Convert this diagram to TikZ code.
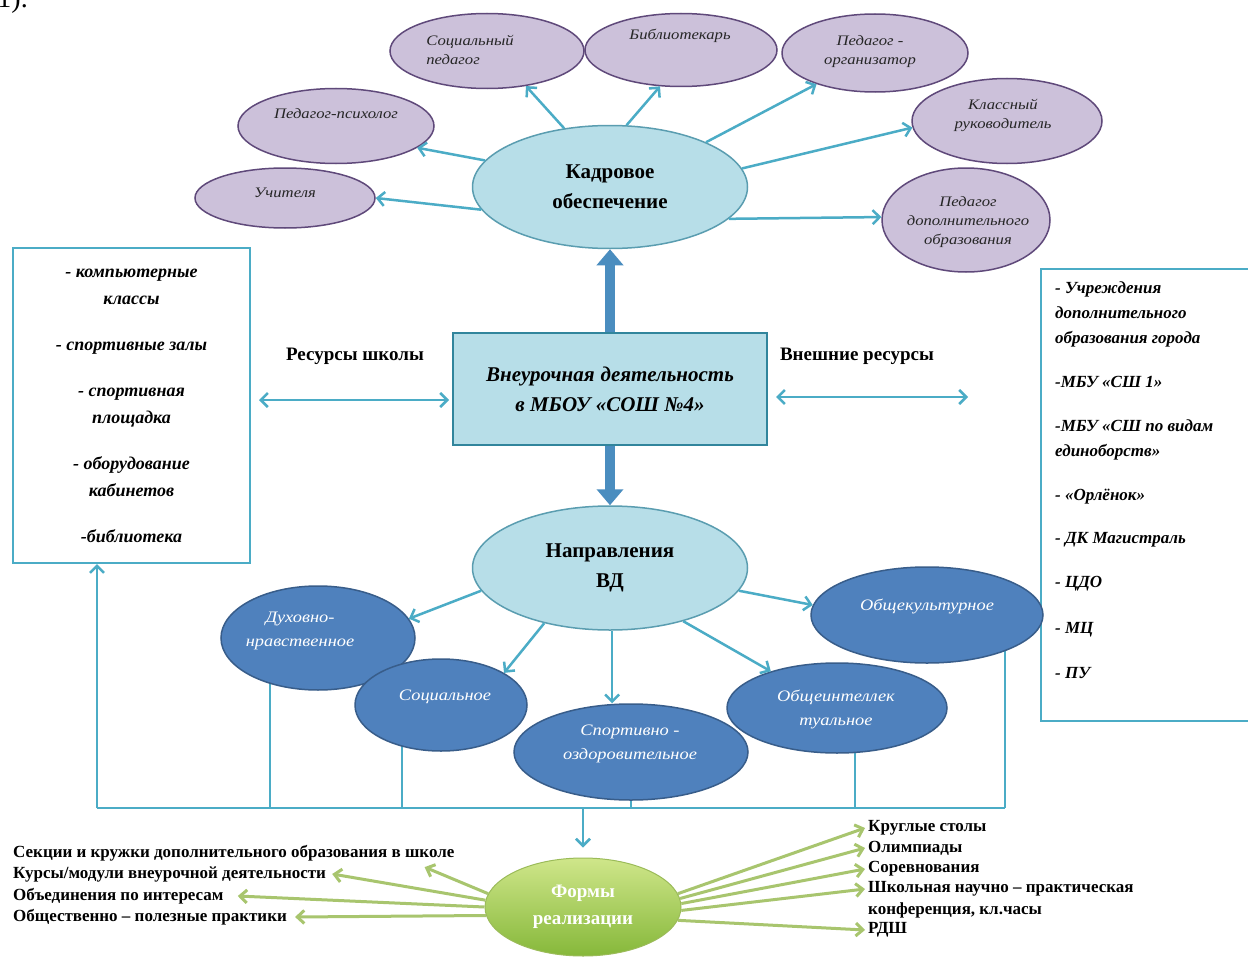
\documentclass[tikz,border=0pt]{standalone}
\usepackage{fontspec}
\setmainfont{Liberation Serif}
\newfontfamily\wideit[FakeStretch=1.15]{Liberation Serif}
\usetikzlibrary{arrows.meta,shapes.geometric,calc,backgrounds}
\definecolor{purfill}{HTML}{CCC1DA}
\definecolor{purdraw}{HTML}{5F497A}
\definecolor{lblue}{HTML}{B7DEE8}
\definecolor{tealA}{HTML}{4BACC6}
\definecolor{darkteal}{HTML}{31859C}
\definecolor{steel}{HTML}{4A8DBF}
\definecolor{bfill}{HTML}{4F81BD}
\definecolor{bdraw}{HTML}{385D8A}
\definecolor{gtop}{HTML}{CFE68A}
\definecolor{gbot}{HTML}{86B83A}
\definecolor{gdraw}{HTML}{9BBB59}
\definecolor{garrow}{HTML}{A8C56E}
\begin{document}
\begin{tikzpicture}[x=1pt,y=-1pt,
  pell/.style={ellipse,draw=purdraw,line width=1.5pt,fill=purfill,inner sep=0pt},
  ptxt/.style={font=\wideit\itshape\fontsize{14.5}{19}\selectfont,align=center,text=black!85,inner sep=0pt},
  lbell/.style={ellipse,draw=darkteal!80,line width=1.5pt,fill=lblue,inner sep=0pt},
  bell/.style={ellipse,draw=bdraw,line width=1.5pt,fill=bfill,inner sep=0pt},
  btxt/.style={font=\wideit\itshape\fontsize{16}{24}\selectfont,align=center,text=white,inner sep=0pt},
  tl/.style={draw=tealA,line width=2.5pt},
  tarr/.style={tl,-{Straight Barb[length=7pt,width=14pt]}},
  dbl/.style={tl,{Straight Barb[length=7pt,width=14pt]}-{Straight Barb[length=7pt,width=14pt]}},
  fatarr/.style={draw=steel,line width=10pt,-{Triangle[length=16pt,width=26pt]}},
  garr/.style={draw=garrow,line width=3pt,-{Straight Barb[length=7pt,width=13pt]}},
  listtxt/.style={font=\bfseries\fontsize{17}{20}\selectfont,inner sep=0pt,anchor=west},
  boxtxt/.style={font=\bfseries\itshape\fontsize{18}{27}\selectfont,align=center},
]
\useasboundingbox (0,0) rectangle (1248,958);
\begin{scope}[on background layer]
\fill[white] (0,0) rectangle (1248,958);
\end{scope}

\node[font=\fontsize{28}{30}\selectfont,anchor=base east,inner sep=0pt] (num) at (28,8) {1).};

% top purple ellipses
\node[pell,minimum width=194pt,minimum height=75pt] (socped) at (487,51) {};
\node[ptxt,align=left] (tsocped) at (470,50) {Социальный\\педагог};
\node[pell,minimum width=192pt,minimum height=73pt] (bib) at (681,50) {};
\node[ptxt] (tbib) at (680,36) {Библиотекарь};
\node[pell,minimum width=186pt,minimum height=78pt] (org) at (875,53) {};
\node[ptxt] (torg) at (870,52) {Педагог -\\организатор};
\node[pell,minimum width=196pt,minimum height=75pt] (psy) at (336,126) {};
\node[ptxt] (tpsy) at (336,114) {Педагог-психолог};
\node[pell,minimum width=180pt,minimum height=60pt] (uch) at (285,198) {};
\node[ptxt] (tuch) at (285,193) {Учителя};
\node[pell,minimum width=190pt,minimum height=85pt] (kl) at (1007,121) {};
\node[ptxt] (tkl) at (1003,115) {Классный\\руководитель};
\node[pell,minimum width=168pt,minimum height=104pt] (dop) at (966,220) {};
\node[ptxt] (tdop) at (968,222) {Педагог\\дополнительного\\образования};

\node[lbell,minimum width=275pt,minimum height=123pt,font=\bfseries\fontsize{21}{30}\selectfont,align=center] (kadr) at (610,187) {Кадровое\\обеспечение};

\draw[tarr] (kadr.190) -- (uch.east);
\draw[tarr] (kadr.168) -- (psy.345);
\draw[tarr] (kadr.128) -- (socped.318);
\draw[tarr] (kadr.75) -- (bib.240);
\draw[tarr] (kadr.25) -- (org.208);
\draw[tarr] (kadr.8) -- (kl.184);
\draw[tarr] (kadr.345) -- (dop.178);

% central
\node[draw=darkteal,line width=2pt,fill=lblue,minimum width=314pt,minimum height=112pt,font=\bfseries\itshape\fontsize{21}{30}\selectfont,align=center] (vd) at (610,389) {Внеурочная\hspace{6pt}деятельность\\в МБОУ «СОШ №4»};

\node[lbell,minimum width=275pt,minimum height=124pt,font=\bfseries\fontsize{21}{30}\selectfont,align=center] (napr) at (610,568) {Направления\\ВД};

\draw[fatarr] (vd.north) -- (kadr.south);
\draw[fatarr] (vd.south) -- (vd.south |- napr.north);

% left box
\node[draw=tealA,line width=2pt,fill=white,minimum width=237pt,minimum height=315pt,boxtxt] (lbox) at (131.5,405.5) {- компьютерные\\классы\\[19pt]- спортивные залы\\[19pt]- спортивная\\площадка\\[19pt]- оборудование\\кабинетов\\[19pt]-библиотека};

% right box
\node[draw=tealA,line width=2pt,fill=white,minimum width=215pt,minimum height=452pt,anchor=north west] (rbox) at (1040,268) {};
\node[font=\bfseries\itshape\fontsize{17}{25}\selectfont,align=left,anchor=north west,inner sep=0pt] (rtx) at (1055,281) {- Учреждения\\дополнительного\\образования города\\[19pt]-МБУ «СШ 1»\\[19pt]-МБУ «СШ по видам\\единоборств»\\[19pt]- «Орлёнок»\\[18pt]- ДК Магистраль\\[19pt]- ЦДО\\[21pt]- МЦ\\[20pt]- ПУ};

\node[font=\bfseries\fontsize{19}{22}\selectfont] (rs) at (355,356) {Ресурсы школы};
\node[font=\bfseries\fontsize{19}{22}\selectfont] (vr) at (857,356) {Внешние ресурсы};

\path (vd.west) ++(0,11) coordinate (vdl);
\draw[dbl,shorten <=8pt,shorten >=3pt] (lbox.east |- vdl) -- (vdl);
\path (vd.east) ++(0,8) coordinate (vdr);
\draw[dbl,shorten <=8pt,shorten >=72pt] (vdr) -- (rbox.west |- vdr);

% directions
\node[bell,minimum width=194pt,minimum height=104pt] (duh) at (318,638) {};
\node[btxt] (tduh) at (300,631) {Духовно-\\нравственное};
\node[bell,minimum width=172pt,minimum height=92pt] (soc) at (441,705) {};
\node[btxt] (tsoc) at (445,697) {Социальное};
\node[bell,minimum width=220pt,minimum height=90pt] (obint) at (837,708) {};
\node[btxt] (tobint) at (836,709) {Общеинтеллек\\туальное};
\node[bell,minimum width=234pt,minimum height=96pt] (sport) at (631,752) {};
\node[btxt] (tsport) at (630,744) {Спортивно -\\оздоровительное};
\node[bell,minimum width=232pt,minimum height=96pt] (obk) at (927,615) {};
\node[btxt] (tobk) at (927,606) {Общекультурное};

\draw[tarr] (napr.190) -- (duh.12);
\draw[tarr] (napr.220) -- (soc.27);
\draw[tarr] (napr.272) -- (napr.272 |- sport.north);
\draw[tarr] (napr.324) -- (obint.151);
\draw[tarr] (napr.350) -- (obk.175);

% bus
\coordinate (bL) at (97,808);
\coordinate (bR) at (1005,808);
\coordinate (j1) at (270,808);
\coordinate (j2) at (402,808);
\coordinate (j3) at (631,808);
\coordinate (j4) at (855,808);
\coordinate (jf) at (583,808);
\begin{scope}[on background layer]
\draw[tl] (bL) -- (bR);
\draw[tl] (j1) -- (j1 |- duh.center);
\draw[tl] (j2) -- (j2 |- soc.center);
\draw[tl] (j3) -- (sport.center);
\draw[tl] (j4) -- (j4 |- obint.center);
\draw[tl] (bR) -- (bR |- obk.center);
\end{scope}
\draw[tarr] (bL) -- (lbox.south -| bL);

% forms
\node[ellipse,draw=gdraw,line width=1pt,top color=gtop,bottom color=gbot,minimum width=196pt,minimum height=98pt,inner sep=0pt,font=\bfseries\fontsize{19}{27}\selectfont,text=white,align=center] (formy) at (583,907) {Формы\\реализации};
\draw[tarr,shorten >=10pt] (jf) -- (jf |- formy.north);

\node[listtxt] (l1) at (13,853) {Секции и кружки дополнительного образования в школе};
\node[listtxt] (l2) at (13,874) {Курсы/модули внеурочной деятельности};
\node[listtxt] (l3) at (13,896) {Объединения по интересам};
\node[listtxt] (l4) at (13,917) {Общественно – полезные практики};

\node[listtxt] (r1) at (868,828) {Круглые столы};
\node[listtxt] (r2) at (868,848) {Олимпиады};
\node[listtxt] (r3) at (868,869) {Соревнования};
\node[listtxt] (r4) at (868,889) {Школьная научно – практическая};
\node[listtxt] (r5) at (868,910) {конференция, кл.часы};
\node[listtxt] (r6) at (868,930) {РДШ};

\draw[garr] (formy.172) -- ([xshift=-30pt,yshift=-6pt]l1.south east);
\draw[garr] (formy.176) -- ([xshift=6pt]l2.east);
\draw[garr] (formy.180) -- ([xshift=14pt]l3.east);
\draw[garr] (formy.185) -- ([xshift=8pt]l4.east);

\draw[garr] (formy.8) -- ([xshift=-3pt]r1.west);
\draw[garr] (formy.5) -- ([xshift=-3pt]r2.west);
\draw[garr] (formy.2) -- ([xshift=-3pt]r3.west);
\draw[garr] (formy.-2) -- ([xshift=-3pt]r4.west);
\draw[garr] (formy.-8) -- ([xshift=-3pt]r6.west);
\end{tikzpicture}
\end{document}
